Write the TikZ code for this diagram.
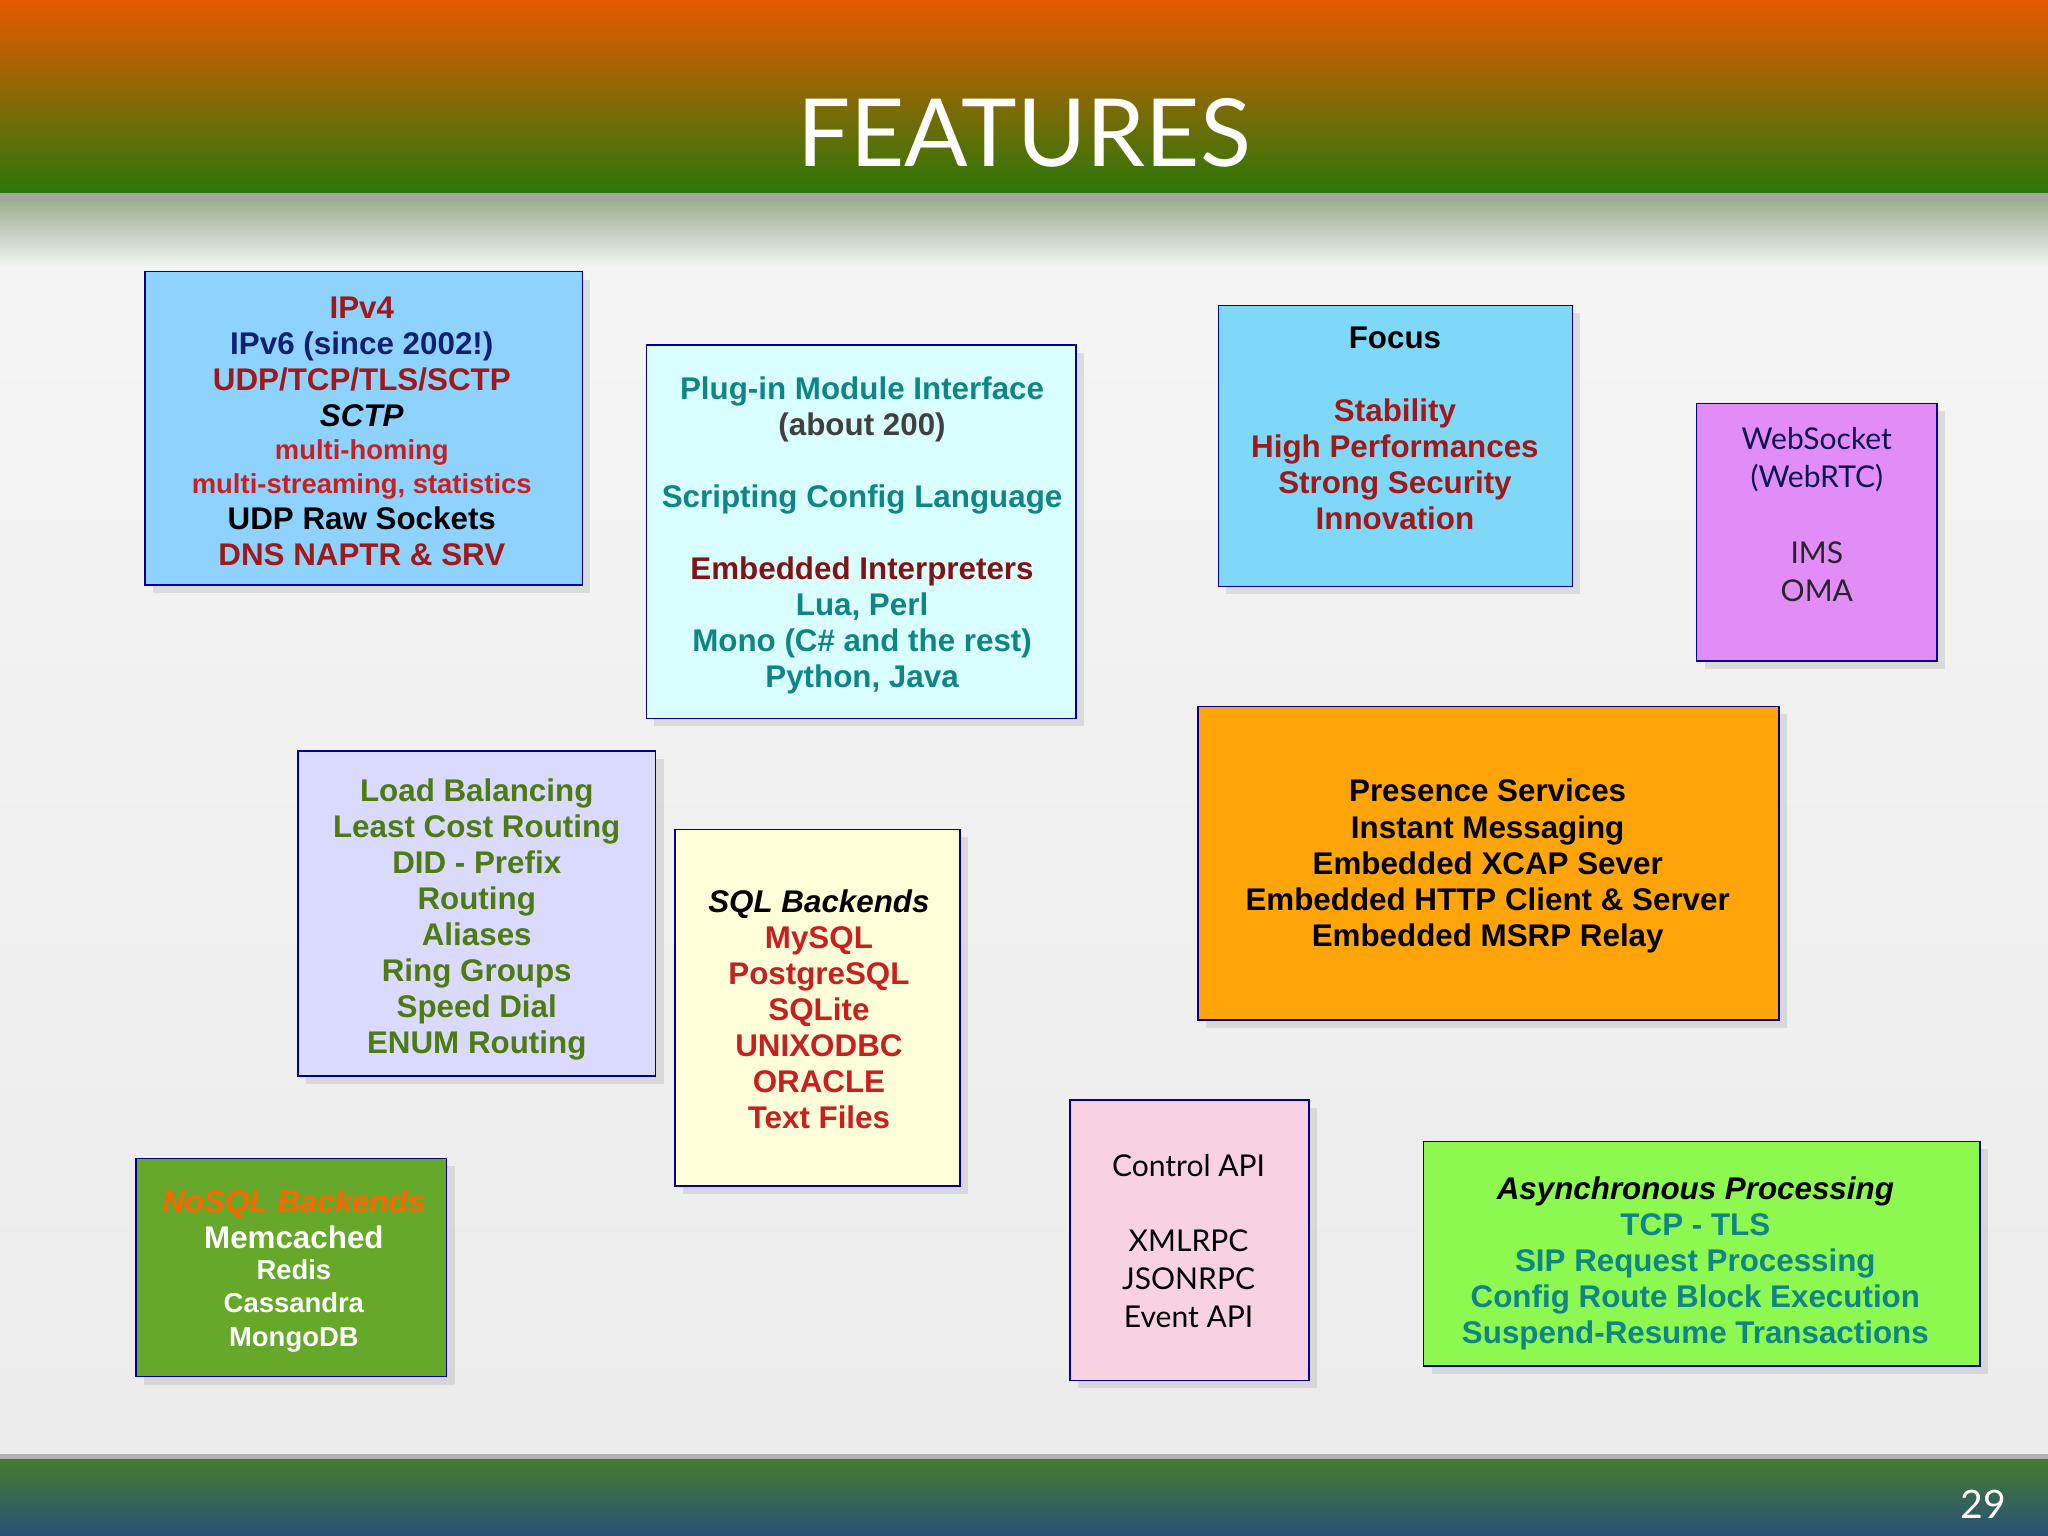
\documentclass[tikz,border=0pt]{standalone}
\usepackage{fontspec}
\setmainfont{Liberation Sans}
\newfontfamily\gill{Lato}
\newfontfamily\gilllight{Lato Light}
\usetikzlibrary{shadows}
\definecolor{dred}{HTML}{A01818}
\definecolor{navy}{HTML}{102070}
\definecolor{rred}{HTML}{C82020}
\definecolor{teal2}{HTML}{108585}
\definecolor{lgreen}{HTML}{4E7A12}
\begin{document}
\begin{tikzpicture}[x=0.5pt,y=-0.5pt,
 box/.style={draw=blue!60!black,line width=0.6pt,drop shadow={opacity=0.2,shadow xshift=3pt,shadow yshift=-3pt}},
 txt/.style={align=center,font=\bfseries\fontsize{12}{13.8}\selectfont,inner sep=0pt},
 gtxt/.style={align=center,font=\gill\fontsize{11.5}{14.5}\selectfont,inner sep=0pt}]
\useasboundingbox (0,0) rectangle (1568,1176);
% background
\shade[top color=gray!8,bottom color=gray!15] (0,150) rectangle (1568,1115);
\shade[top color={rgb,255:red,150;green,170;blue,140},bottom color=gray!8] (0,150) rectangle (1568,205);
\shade[top color={rgb,255:red,230;green,90;blue,0},bottom color={rgb,255:red,40;green,120;blue,10}] (0,0) rectangle (1568,150);
\fill[gray!70] (0,148) rectangle (1568,152);
\shade[top color={rgb,255:red,70;green,125;blue,45},bottom color={rgb,255:red,40;green,80;blue,120}] (0,1115) rectangle (1568,1176);
\fill[gray!60] (0,1113) rectangle (1568,1117);
\node[text=white,font=\gill\fontsize{36}{36}\selectfont] (title) at (784,102) {FEATURES};
\node[text=white,font=\gill\fontsize{15}{15}\selectfont,anchor=east] (pg) at (1543,1152) {29};
% boxes
\filldraw[box,fill={rgb,255:red,142;green,210;blue,255}] (111,208) rectangle (446,448);
\filldraw[box,fill={rgb,255:red,218;green,255;blue,255}] (495,264) rectangle (824,550);
\filldraw[box,fill={rgb,255:red,128;green,216;blue,248}] (933,234) rectangle (1204,449);
\filldraw[box,fill={rgb,255:red,226;green,140;blue,248}] (1299,309) rectangle (1483,506);
\filldraw[box,fill={rgb,255:red,218;green,218;blue,255}] (228,575) rectangle (502,824);
\filldraw[box,fill={rgb,255:red,255;green,255;blue,218}] (517,635) rectangle (735,908);
\filldraw[box,fill={rgb,255:red,255;green,165;blue,10}] (917,541) rectangle (1362,781);
\filldraw[box,fill={rgb,255:red,102;green,168;blue,42}] (104,887) rectangle (342,1054);
\filldraw[box,fill={rgb,255:red,248;green,210;blue,226}] (819,842) rectangle (1002,1057);
\filldraw[box,fill={rgb,255:red,140;green,248;blue,80}] (1090,874) rectangle (1516,1046);
% texts
\node[txt] (t1) at (277,330) {\color{dred}IPv4\\\color{navy}IPv6 (since 2002!)\\\color{dred}UDP/TCP/TLS/SCTP\\\color{black}\itshape SCTP\\[-1pt]
 {\color{rred}\fontsize{10.5}{11.5}\selectfont multi-homing}\\[-1pt]{\color{rred}\fontsize{10.5}{11.5}\selectfont multi-streaming, statistics}\\\color{black}UDP Raw Sockets\\\color{dred}DNS NAPTR \& SRV};
\node[txt,text=teal2] (t2) at (660,410) {Plug-in Module Interface\\\color{gray!50!black}(about 200)\\[13.8pt]Scripting Config Language\\[13.8pt]\color{dred!80!black}Embedded Interpreters\\Lua, Perl\\Mono (C\# and the rest)\\Python, Java};
\node[txt] (t3) at (1068,328) {Focus\\[13.8pt]\color{dred}Stability\\\color{dred}High Performances\\\color{dred}Strong Security\\\color{dred}Innovation};
\node[gtxt,text=black!85] (t4) at (1391,394) {\color{navy!70!black}WebSocket\\\color{navy!70!black}(WebRTC)\\[14.5pt]IMS\\OMA};
\node[txt,text=lgreen] (t5) at (365,704) {Load Balancing\\Least Cost Routing\\DID - Prefix\\Routing\\Aliases\\Ring Groups\\Speed Dial\\ENUM Routing};
\node[txt,text=rred] (t6) at (627,773) {\color{black}\itshape SQL Backends\\MySQL\\PostgreSQL\\SQLite\\UNIXODBC\\ORACLE\\Text Files};
\node[txt] (t7) at (1139,663) {Presence Services\\Instant Messaging\\Embedded XCAP Sever\\Embedded HTTP Client \& Server\\Embedded MSRP Relay};
\node[txt,text=white] (t8) at (225,973) {{\color{orange!80!red}\itshape NoSQL Backends}\\Memcached\\[-2pt]{\fontsize{10.5}{11.5}\selectfont Redis}\\[-1pt]{\fontsize{10.5}{11.5}\selectfont Cassandra}\\[-1pt]{\fontsize{10.5}{11.5}\selectfont MongoDB}};
\node[gtxt] (t9) at (910,950) {Control API\\[14.5pt]XMLRPC\\JSONRPC\\Event API};
\node[txt,text=teal2] (t10) at (1298,967) {\color{black}\itshape Asynchronous Processing\\TCP - TLS\\SIP Request Processing\\Config Route Block Execution\\Suspend-Resume Transactions};
\end{tikzpicture}
\end{document}
